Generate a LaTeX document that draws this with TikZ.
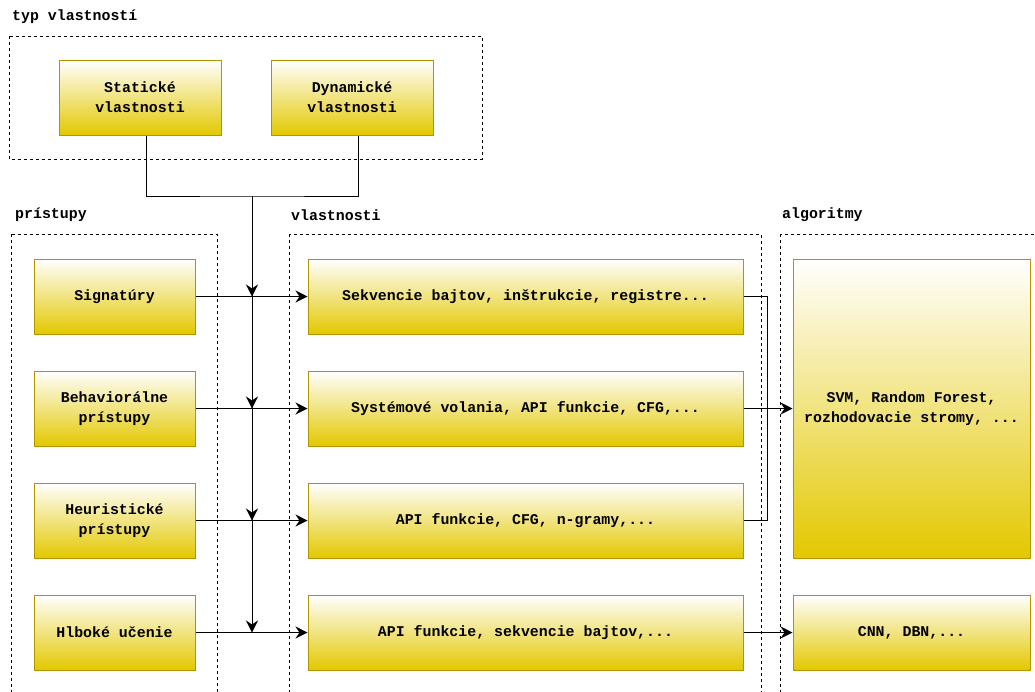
\documentclass[tikz,border=0pt]{standalone}
\usepackage{fontspec}
\setmonofont{Liberation Mono}
\usetikzlibrary{positioning, arrows.meta, calc}
\definecolor{boxfill}{RGB}{227,200,0}
\definecolor{boxline}{RGB}{178,150,0}
\tikzset{
	yellowbox/.style={rectangle, draw=boxline, top color=white, bottom color=boxfill,
		line width=1pt, align=center, inner sep=2pt,
		font=\ttfamily\bfseries\fontsize{14.9}{20}\selectfont},
	groupbox/.style={draw, line width=1pt, dash pattern=on 3pt off 3pt},
	grouplabel/.style={anchor=west, inner sep=0pt,
		font=\ttfamily\bfseries\fontsize{14.9}{20}\selectfont},
	linkarr/.style={-{Stealth[length=12pt, width=12pt, inset=4pt]}, line width=1pt},
	link/.style={line width=1pt}
}

\begin{document}
\begin{tikzpicture}[x=1pt, y=-1pt,
		sidebox/.style={yellowbox, minimum width=161pt, minimum height=75pt},
		featbox/.style={yellowbox, minimum width=435pt, minimum height=75pt},
		algbox/.style={yellowbox, minimum width=237pt}]
	\useasboundingbox (0,0) rectangle (1035,691);
	\clip (0,0) rectangle (1035,691);
	% groups
	\draw[groupbox] (9,36) rectangle (482,159);
	\draw[groupbox] (11,234) rectangle (217,720);
	\draw[groupbox] (289,234) rectangle (761,720);
	\draw[groupbox] (780,234) rectangle (1060,720);
	\node[grouplabel] (typlab) at (12,17) {typ vlastností};
	\node[grouplabel] (prilab) at (15,215) {prístupy};
	\node[grouplabel] (vlalab) at (291,215) {vlastnosti};
	\node[grouplabel] (alglab) at (782,215) {algoritmy};
	% feature types
	\node[yellowbox, minimum width=162pt, minimum height=75pt] (stat) at (140,97.5) {Statické\\vlastnosti};
	\node[yellowbox, minimum width=162pt, minimum height=75pt] (dyn) at (352,97.5) {Dynamické\\vlastnosti};
	% approaches
	\node[sidebox] (sig) at (114.5,296.5) {Signatúry};
	\node[sidebox] (beh) at (114.5,408.5) {Behaviorálne\\prístupy};
	\node[sidebox] (heur) at (114.5,520.5) {Heuristické\\prístupy};
	\node[sidebox] (deep) at (114.5,632.5) {Hlboké učenie};
	% features
	\node[featbox] (seq) at (525.5,296.5) {Sekvencie bajtov, inštrukcie, registre...};
	\node[featbox] (sys) at (525.5,408.5) {Systémové volania, API funkcie, CFG,...};
	\node[featbox] (api) at (525.5,520.5) {API funkcie, CFG, n-gramy,...};
	\node[featbox] (apiseq) at (525.5,632.5) {API funkcie, sekvencie bajtov,...};
	% algorithms
	\node[algbox, minimum height=299pt] (svm) at (911.5,408.5) {SVM, Random Forest,\\rozhodovacie stromy, ...};
	\node[algbox, minimum height=75pt] (cnn) at (911.5,632.5) {CNN, DBN,...};
	% connectors
	\coordinate (merge) at (252,196);
	\draw[link] ([xshift=6pt]stat.south) |- (merge) -| ([xshift=6pt]dyn.south);
	\foreach \a in {sig, beh, heur, deep}
		\draw[linkarr] (merge) -- (merge |- \a);
	\foreach \a/\b in {sig/seq, beh/sys, heur/api, deep/apiseq, sys/svm, apiseq/cnn}
		\draw[linkarr] (\a) -- (\b);
	\draw[link] (seq.east) -- ++(24,0) |- (api.east);
\end{tikzpicture}
\end{document}
